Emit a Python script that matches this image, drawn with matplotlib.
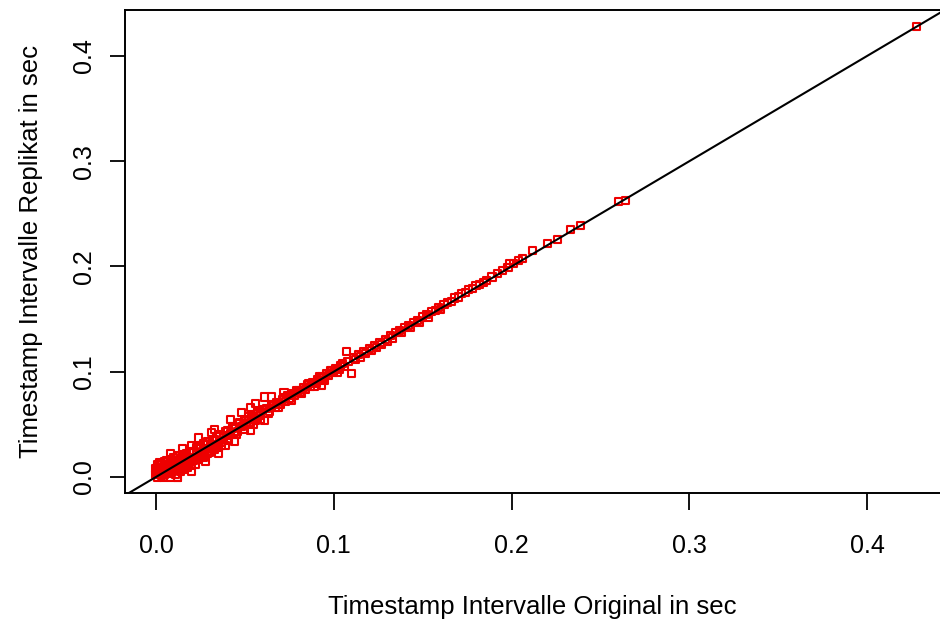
import matplotlib.pyplot as plt

# timestamp intervals (sec): original vs. replica
x_orig = [
    0.000, 0.000, 0.001, 0.001, 0.001, 0.002, 0.002, 0.002, 0.003, 0.003,
    0.003, 0.004, 0.004, 0.005, 0.005, 0.005, 0.006, 0.006, 0.007, 0.007,
    0.008, 0.008, 0.008, 0.009, 0.009, 0.010, 0.010, 0.010, 0.011, 0.011,
    0.012, 0.012, 0.012, 0.013, 0.013, 0.014, 0.014, 0.015, 0.015, 0.016,
    0.016, 0.017, 0.017, 0.018, 0.018, 0.019, 0.019, 0.020, 0.020, 0.021,
    0.021, 0.022, 0.022, 0.023, 0.024, 0.024, 0.025, 0.025, 0.026, 0.027,
    0.027, 0.028, 0.029, 0.029, 0.030, 0.031, 0.031, 0.032, 0.033, 0.033,
    0.034, 0.035, 0.036, 0.036, 0.037, 0.038, 0.039, 0.040, 0.040, 0.041,
    0.042, 0.043, 0.044, 0.045, 0.046, 0.047, 0.048, 0.048, 0.049, 0.050,
    0.051, 0.052, 0.053, 0.053, 0.054, 0.055, 0.056, 0.057, 0.058, 0.059,
    0.060, 0.061, 0.061,
    0.002, 0.004, 0.006, 0.009, 0.011, 0.013, 0.016, 0.018, 0.021, 0.023,
    0.026, 0.028, 0.030, 0.032, 0.034, 0.037, 0.039, 0.041, 0.043, 0.045,
    0.047, 0.050, 0.052, 0.055, 0.057, 0.059, 0.063, 0.066, 0.069, 0.072,
    0.076, 0.079, 0.082, 0.086, 0.089, 0.092, 0.095, 0.098, 0.102, 0.105,
    0.012, 0.020, 0.028, 0.035, 0.044, 0.053, 0.008, 0.015, 0.024, 0.033,
    0.042, 0.056, 0.065, 0.072,
    0.062, 0.064, 0.065, 0.067, 0.068, 0.070, 0.071, 0.073, 0.074, 0.075,
    0.077, 0.078, 0.080, 0.081, 0.083, 0.084, 0.085, 0.087, 0.088, 0.090,
    0.091, 0.093, 0.093, 0.094, 0.096, 0.097, 0.099, 0.100, 0.101, 0.103,
    0.104, 0.106, 0.107, 0.108, 0.110, 0.111, 0.112, 0.114, 0.115, 0.117,
    0.118, 0.120, 0.121, 0.123, 0.124, 0.126, 0.127, 0.129, 0.130, 0.132,
    0.133, 0.135, 0.137, 0.138, 0.140, 0.142, 0.143, 0.145, 0.147, 0.148,
    0.150, 0.152, 0.153, 0.155, 0.157, 0.159, 0.160, 0.162, 0.164, 0.166,
    0.168, 0.170, 0.172, 0.174, 0.176, 0.178, 0.180, 0.182, 0.184, 0.186,
    0.189, 0.192, 0.195, 0.198, 0.199, 0.201, 0.204, 0.206,
    0.212, 0.220, 0.226, 0.233, 0.239, 0.260, 0.264, 0.428,
]
y_repl = [
    0.002, 0.008, 0.000, 0.005, 0.012, 0.003, 0.009, 0.014, 0.001, 0.007,
    0.013, 0.004, 0.010, 0.002, 0.008, 0.015, 0.005, 0.016, 0.003, 0.011,
    0.000, 0.007, 0.014, 0.004, 0.012, 0.006, 0.013, 0.018, 0.002, 0.009,
    0.000, 0.011, 0.020, 0.008, 0.016, 0.005, 0.012, 0.010, 0.021, 0.007,
    0.017, 0.013, 0.022, 0.009, 0.018, 0.014, 0.024, 0.011, 0.030, 0.016,
    0.023, 0.018, 0.012, 0.021, 0.017, 0.027, 0.020, 0.030, 0.024, 0.019,
    0.032, 0.026, 0.022, 0.034, 0.027, 0.042, 0.024, 0.029, 0.026, 0.036,
    0.031, 0.028, 0.035, 0.040, 0.033, 0.038, 0.030, 0.036, 0.044, 0.039,
    0.041, 0.046, 0.042, 0.047, 0.043, 0.052, 0.048, 0.061, 0.049, 0.054,
    0.050, 0.055, 0.052, 0.066, 0.056, 0.057, 0.054, 0.060, 0.058, 0.062,
    0.064, 0.076, 0.054,
    0.006, 0.000, 0.010, 0.017, 0.006, 0.014, 0.021, 0.013, 0.024, 0.028,
    0.020, 0.031, 0.023, 0.035, 0.038, 0.030, 0.043, 0.035, 0.048, 0.040,
    0.051, 0.045, 0.057, 0.050, 0.061, 0.055, 0.060, 0.069, 0.066, 0.075,
    0.073, 0.082, 0.079, 0.089, 0.086, 0.095, 0.092, 0.101, 0.099, 0.108,
    0.000, 0.005, 0.015, 0.022, 0.034, 0.044, 0.022, 0.027, 0.037, 0.045,
    0.055, 0.070, 0.076, 0.080,
    0.065, 0.062, 0.068, 0.066, 0.071, 0.069, 0.074, 0.072, 0.077, 0.075,
    0.079, 0.077, 0.082, 0.080, 0.085, 0.083, 0.088, 0.086, 0.090, 0.089,
    0.093, 0.087, 0.095, 0.094, 0.098, 0.096, 0.101, 0.099, 0.103, 0.102,
    0.106, 0.105, 0.119, 0.110, 0.098, 0.113, 0.112, 0.116, 0.114, 0.119,
    0.117, 0.122, 0.120, 0.125, 0.123, 0.128, 0.126, 0.131, 0.129, 0.134,
    0.132, 0.137, 0.139, 0.137, 0.142, 0.144, 0.142, 0.147, 0.149, 0.147,
    0.152, 0.154, 0.152, 0.157, 0.158, 0.161, 0.159, 0.164, 0.166, 0.167,
    0.170, 0.171, 0.174, 0.175, 0.178, 0.179, 0.182, 0.183, 0.185, 0.187,
    0.190, 0.193, 0.196, 0.199, 0.203, 0.203, 0.206, 0.208,
    0.215, 0.222, 0.226, 0.235, 0.239, 0.262, 0.263, 0.428,
]

ticks = [0.0, 0.1, 0.2, 0.3, 0.4]
tick_labels = ["0.0", "0.1", "0.2", "0.3", "0.4"]

plt.rcParams["font.family"] = ["Liberation Sans", "DejaVu Sans"]

fig = plt.figure(figsize=(9.4, 6.3), dpi=100)
ax = fig.add_axes([0.133, 0.2175, 0.867, 0.7667])

ax.scatter(x_orig, y_repl, marker="s", s=26, facecolors="none",
           edgecolors="#ee0000", linewidths=1.5, zorder=2)
ax.axline((0, 0), slope=1, color="black", linewidth=1.5, zorder=3)

ax.set_xlim(-0.0174, 0.441)
ax.set_ylim(-0.0152, 0.4437)

ax.set_xticks(ticks)
ax.set_xticklabels(tick_labels)
ax.set_yticks(ticks)
ax.set_yticklabels(tick_labels, rotation=90, va="center")

ax.tick_params(axis="x", length=12.5, width=1.3, pad=17, labelsize=18)
ax.tick_params(axis="y", length=11, width=1.3, pad=10, labelsize=18)

for side in ["left", "bottom", "top"]:
    ax.spines[side].set_linewidth(1.4)
ax.spines["right"].set_visible(False)

ax.set_xlabel("Timestamp Intervalle Original in sec", fontsize=18.5, labelpad=27)
ax.set_ylabel("Timestamp Intervalle Replikat in sec", fontsize=18.5, labelpad=21)

fig.savefig("out.png", dpi=100)
